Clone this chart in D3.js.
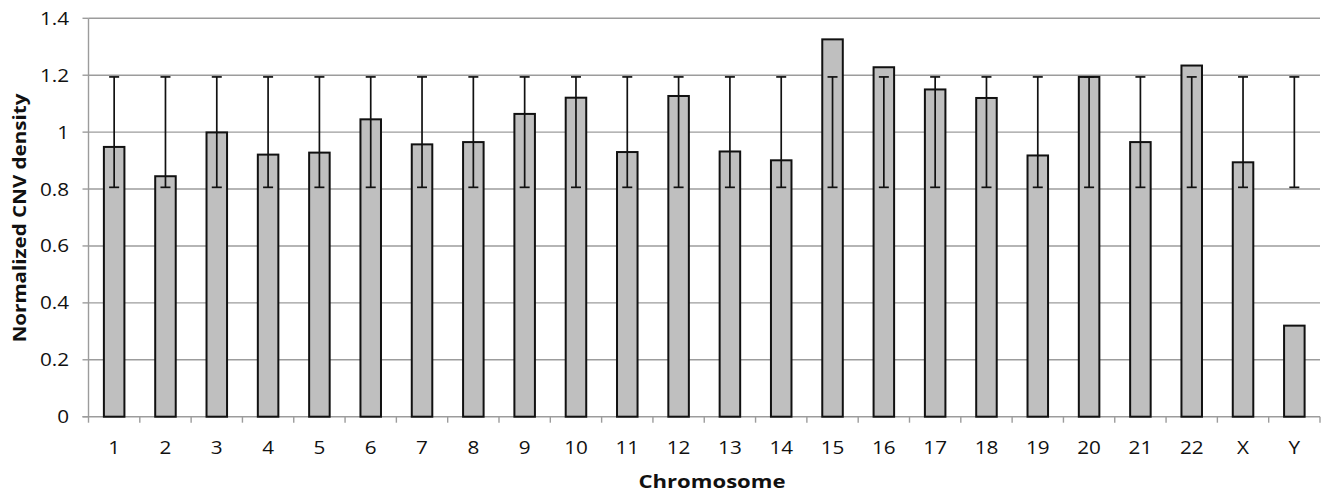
<!DOCTYPE html>
<html>
  <head>
    <meta charset="UTF-8" />
    <style>
      body {
        margin: 0;
        background: #fff;
      }
      svg text {
        font-family: "Open Sans", sans-serif;
        fill: #111;
      }
    </style>
  </head>
  <body>
    <svg></svg>

    <script src="https://d3js.org/d3.v7.min.js"></script>

    <script>
      // chart data
      const chromosomes = ["1", "2", "3", "4", "5", "6", "7", "8", "9", "10", "11", "12",
        "13", "14", "15", "16", "17", "18", "19", "20", "21", "22", "X", "Y"];
      const density = [0.948, 0.845, 0.999, 0.921, 0.928, 1.045, 0.957, 0.965, 1.064, 1.121, 0.93, 1.127,
        0.932, 0.901, 1.326, 1.228, 1.15, 1.12, 0.918, 1.194, 0.965, 1.234, 0.894, 0.32];
      const errLower = [0.806, 0.806, 0.806, 0.806, 0.806, 0.806, 0.806, 0.806, 0.806, 0.806, 0.806, 0.806,
        0.806, 0.806, 0.806, 0.806, 0.806, 0.806, 0.806, 0.806, 0.806, 0.806, 0.806, 0.806];
      const errUpper = [1.194, 1.194, 1.194, 1.194, 1.194, 1.194, 1.194, 1.194, 1.194, 1.194, 1.194, 1.194,
        1.194, 1.194, 1.194, 1.194, 1.194, 1.194, 1.194, 1.194, 1.194, 1.194, 1.194, 1.194];
      const yTicks = [0, 0.2, 0.4, 0.6, 0.8, 1, 1.2, 1.4];

      let width = 1321,
        height = 494;

      let svg = d3
        .select("svg")
        .attr("width", width)
        .attr("height", height)
        .attr("viewBox", "0 0 " + width + " " + height);

      const plotLeft = 88.5,
        plotRight = 1320,
        plotTop = 18.3,
        plotBottom = 416.7;

      const stretch = 1.15; // source text is drawn a bit wide
      const gridColor = "#9c9c9c";

      let x = d3
        .scaleBand()
        .domain(chromosomes)
        .range([plotLeft, plotRight])
        .paddingInner(0.6)
        .paddingOuter(0.3);

      let y = d3.scaleLinear().domain([0, 1.4]).range([plotBottom, plotTop]);

      const data = chromosomes.map((c, i) => ({
        name: c,
        value: density[i],
        lo: errLower[i],
        hi: errUpper[i],
      }));

      // gridlines
      svg
        .append("g")
        .selectAll("line")
        .data(yTicks.filter((t) => t > 0))
        .enter()
        .append("line")
        .attr("x1", plotLeft)
        .attr("x2", plotRight)
        .attr("y1", (d) => y(d))
        .attr("y2", (d) => y(d))
        .attr("stroke", gridColor)
        .attr("stroke-width", 1.4);

      // y axis
      let yAxis = svg.append("g");
      yAxis
        .append("line")
        .attr("x1", plotLeft)
        .attr("x2", plotLeft)
        .attr("y1", plotTop)
        .attr("y2", plotBottom)
        .attr("stroke", gridColor)
        .attr("stroke-width", 1.4);
      yAxis
        .selectAll("line.tick")
        .data(yTicks)
        .enter()
        .append("line")
        .attr("class", "tick")
        .attr("x1", plotLeft - 6)
        .attr("x2", plotLeft)
        .attr("y1", (d) => y(d))
        .attr("y2", (d) => y(d))
        .attr("stroke", gridColor)
        .attr("stroke-width", 1.4);
      yAxis
        .selectAll("text")
        .data(yTicks)
        .enter()
        .append("text")
        .attr("transform", (d) => "translate(69," + y(d) + ") scale(" + stretch + ",1)")
        .attr("dy", "0.36em")
        .attr("text-anchor", "end")
        .style("font-size", "18px")
        .text((d) => d3.format("~g")(d));

      // x axis
      let xAxis = svg.append("g");
      xAxis
        .append("line")
        .attr("x1", plotLeft - 6)
        .attr("x2", plotRight)
        .attr("y1", plotBottom)
        .attr("y2", plotBottom)
        .attr("stroke", gridColor)
        .attr("stroke-width", 1.4);
      const step = x.step();
      xAxis
        .selectAll("line.tick")
        .data(d3.range(chromosomes.length + 1))
        .enter()
        .append("line")
        .attr("class", "tick")
        .attr("x1", (i) => plotLeft + i * step)
        .attr("x2", (i) => plotLeft + i * step)
        .attr("y1", plotBottom)
        .attr("y2", plotBottom + 6)
        .attr("stroke", gridColor)
        .attr("stroke-width", 1.4);
      xAxis
        .selectAll("text")
        .data(chromosomes)
        .enter()
        .append("text")
        .attr("transform", (d) => "translate(" + (x(d) + x.bandwidth() / 2) + ",454) scale(" + stretch + ",1)")
        .attr("text-anchor", "middle")
        .style("font-size", "18px")
        .text((d) => d);

      // bars
      svg
        .append("g")
        .selectAll("rect")
        .data(data)
        .enter()
        .append("rect")
        .attr("x", (d) => x(d.name))
        .attr("width", x.bandwidth())
        .attr("y", (d) => y(d.value))
        .attr("height", (d) => y(0) - y(d.value))
        .attr("fill", "#bfbfbf")
        .attr("stroke", "#111")
        .attr("stroke-width", 2);

      // error bars
      let err = svg
        .append("g")
        .attr("stroke", "#111")
        .attr("stroke-width", 1.7)
        .selectAll("g")
        .data(data)
        .enter()
        .append("g")
        .attr("transform", (d) => "translate(" + (x(d.name) + x.bandwidth() / 2) + ",0)");
      err
        .append("line")
        .attr("y1", (d) => y(d.hi))
        .attr("y2", (d) => y(d.lo));
      err
        .append("line")
        .attr("x1", -5)
        .attr("x2", 5)
        .attr("y1", (d) => y(d.hi))
        .attr("y2", (d) => y(d.hi));
      err
        .append("line")
        .attr("x1", -5)
        .attr("x2", 5)
        .attr("y1", (d) => y(d.lo))
        .attr("y2", (d) => y(d.lo));

      // axis titles
      svg
        .append("text")
        .attr("transform", "translate(712,488) scale(1.3,1)")
        .attr("text-anchor", "middle")
        .style("font-size", "17px")
        .style("font-weight", "bold")
        .text("Chromosome");

      svg
        .append("text")
        .attr("transform", "translate(26,218) rotate(-90) scale(1.21,1)")
        .attr("text-anchor", "middle")
        .style("font-size", "17px")
        .style("font-weight", "bold")
        .text("Normalized CNV density");
    </script>
  </body>
</html>
